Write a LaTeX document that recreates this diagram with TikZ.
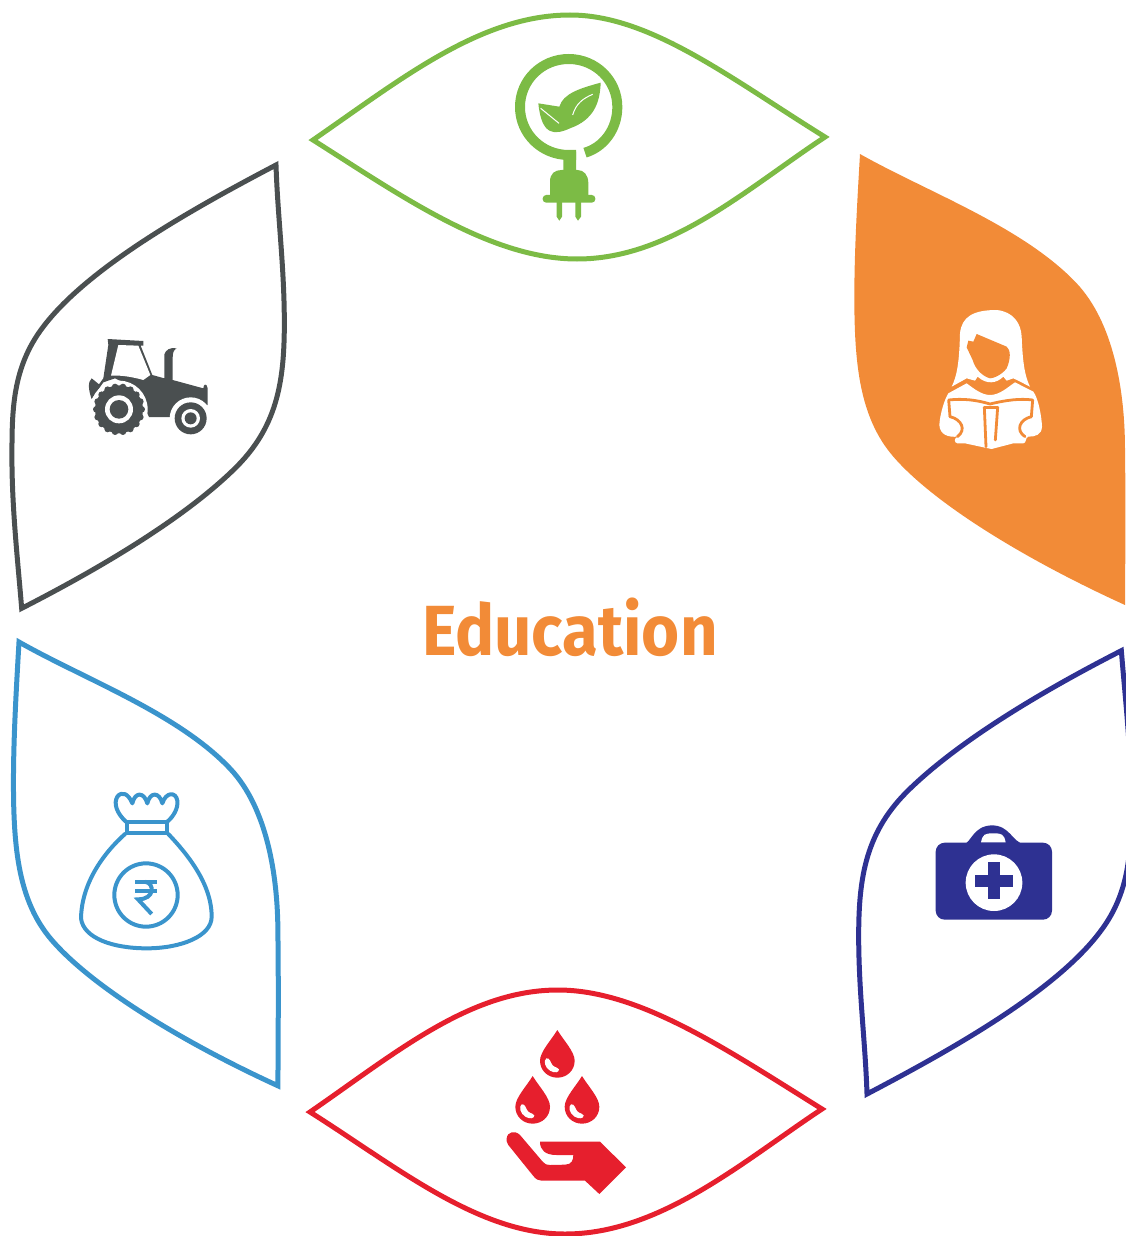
\documentclass[tikz,border=0pt]{standalone}
\usepackage{fontspec}
\setmainfont{Fira Sans}
\newfontfamily\titlefont[FakeStretch=0.92]{Fira Sans}
\definecolor{cgreen}{HTML}{7CBB45}
\definecolor{corange}{HTML}{F28B37}
\definecolor{cnavy}{HTML}{2E3192}
\definecolor{cred}{HTML}{E61F2D}
\definecolor{cblue}{HTML}{3A94CC}
\definecolor{cgrey}{HTML}{4A4F50}
\newcommand{\slantleaf}{(828,45) .. controls (600,165) and (270,345) .. (130,530) .. controls (30,660) and (36,800) .. (36,950) .. controls (38,1100) and (55,1250) .. (65,1375) .. controls (280,1265) and (540,1115) .. (700,960) .. controls (830,835) and (853,700) .. (853,520) .. controls (853,350) and (833,200) .. (828,45) -- cycle}
\newcommand{\otherleaf}{(30,12) .. controls (230,125) and (520,230) .. (680,400) .. controls (790,517) and (825,720) .. (825,900) .. controls (827,1050) and (826,1200) .. (825,1365) .. controls (550,1240) and (260,1070) .. (130,920) .. controls (28,802) and (13,640) .. (13,440) .. controls (13,300) and (22,150) .. (30,12) -- cycle}
\newcommand{\blooddrop}[2]{%
  \fill[cred] (#1,#2) .. controls (#1-18,#2+30) and (#1-52,#2+65) .. (#1-52,#2+92) .. controls (#1-52,#2+122) and (#1-28,#2+143) .. (#1,#2+143) .. controls (#1+28,#2+143) and (#1+52,#2+122) .. (#1+52,#2+92) .. controls (#1+52,#2+65) and (#1+18,#2+30) .. (#1,#2) -- cycle;
  \fill[white] (#1-33,#2+85) .. controls (#1-42,#2+92) and (#1-38,#2+112) .. (#1-22,#2+122) .. controls (#1-8,#2+130) and (#1+5,#2+128) .. (#1+5,#2+118) .. controls (#1+4,#2+112) and (#1-6,#2+114) .. (#1-14,#2+106) .. controls (#1-20,#2+100) and (#1-22,#2+82) .. (#1-33,#2+85) -- cycle;}
\tikzset{
  leafline/.style={line width=5pt,line join=miter,miter limit=20},
  zoomed/.style 2 args={shift={(#1,#2)},x=0.33333pt,y=-0.33333pt},
  bagline/.style={draw=cblue,line width=4pt,line join=round,line cap=round},
  bookline/.style={draw=corange,line width=2.8pt,line join=round,line cap=round}
}
\begin{document}
\begin{tikzpicture}[x=1pt,y=-1pt]
\useasboundingbox[clip] (0,0) rectangle (1126,1236);
% leaves
\draw[leafline,cgreen] (313,140) .. controls (400,80) and (480,15) .. (570,15) .. controls (650,15) and (730,78) .. (825,137) .. controls (745,190) and (670,259) .. (577,259) .. controls (490,259) and (400,195) .. (313,140) -- cycle;
\draw[leafline,cred] (310,1112) .. controls (397,1052) and (470,990) .. (558,990) .. controls (640,990) and (727,1050) .. (822,1109) .. controls (742,1162) and (660,1234) .. (565,1234) .. controls (478,1234) and (397,1167) .. (310,1112) -- cycle;
\begin{scope}[zoomed={0}{150}]
\draw[leafline,cgrey] \slantleaf;
\end{scope}
\begin{scope}[shift={(1143,1259)},xscale=-1,yscale=-1,zoomed={0}{150}]
\draw[leafline,cnavy] \slantleaf;
\end{scope}
\begin{scope}[zoomed={850}{150}]
\fill[corange] \otherleaf;
\end{scope}
\begin{scope}[shift={(19,642)},xscale=.977,yscale=.984,shift={(-860,-154)},zoomed={850}{150}]
\draw[leafline,cblue] \otherleaf;
\end{scope}
% title
\node[text=corange,font=\titlefont\bfseries\fontsize{71}{71}\selectfont,inner sep=0pt] (title) at (570,627) {Education};
% plug and leaf icon
\begin{scope}[zoomed={500}{40}]
\draw[cgreen,line width=10pt] (255,338) .. controls (310,322) and (352,268) .. (352,201) .. controls (352,121) and (287,57) .. (206,57) .. controls (125,57) and (60,121) .. (60,201) .. controls (60,281) and (125,345) .. (206,345) -- (228,345);
\fill[cgreen] (190,340) -- (228,335) -- (228,392) -- (190,392) -- cycle;
\fill[cgreen] (150,468) -- (150,425) .. controls (150,400) and (165,390) .. (185,390) -- (232,390) .. controls (252,390) and (265,405) .. (265,430) -- (265,468) -- cycle;
\fill[cgreen,rounded corners=3.5pt] (128,465) rectangle (286,488);
\fill[cgreen] (170,485) -- (186,485) -- (186,530) -- (178,542) -- (170,530) -- cycle;
\fill[cgreen] (226,485) -- (243,485) -- (243,530) -- (234,542) -- (226,530) -- cycle;
\fill[cgreen] (115,190) -- (178,200) .. controls (190,160) and (240,145) .. (302,128) .. controls (300,190) and (280,240) .. (210,265) .. controls (165,285) and (125,290) .. (115,190) -- cycle;
\draw[white,line width=1pt] (122,205) -- (177,250);
\draw[white,line width=1pt] (218,225) .. controls (228,190) and (250,175) .. (278,163);
\end{scope}
% reader icon
\begin{scope}[zoomed={850}{150}]
\fill[white] (305,710) .. controls (320,680) and (328,640) .. (330,550) .. controls (335,500) and (370,480) .. (440,480) .. controls (490,485) and (513,520) .. (515,560) .. controls (518,640) and (525,680) .. (540,710) .. controls (520,700) and (505,692) .. (490,685) -- (470,692) -- (460,680) .. controls (440,700) and (410,705) .. (383,680) -- (375,692) -- (350,685) -- cycle;
\fill[corange] (380,552) -- (470,590) .. controls (482,600) and (483,625) .. (470,655) .. controls (455,675) and (430,685) .. (420,685) .. controls (395,678) and (375,655) .. (368,630) -- (350,592) -- (355,572) -- (370,575) -- cycle;
\fill[white] (350,700) .. controls (370,715) and (395,735) .. (420,735) .. controls (450,735) and (475,710) .. (495,697) -- (550,725) .. controls (565,745) and (575,800) .. (576,830) .. controls (575,855) and (555,860) .. (535,860) .. controls (525,862) and (530,880) .. (520,880) -- (490,880) -- (440,893) -- (425,897) -- (405,893) -- (345,880) -- (322,880) .. controls (312,878) and (312,865) .. (322,860) .. controls (295,862) and (270,855) .. (268,825) .. controls (270,790) and (285,745) .. (295,730) -- cycle;
\draw[bookline] (300,800) -- (296,750) .. controls (340,745) and (380,750) .. (420,762) .. controls (470,750) and (510,745) .. (548,750) -- (544,800);
\draw[bookline] (300,800) .. controls (335,808) and (350,840) .. (322,860);
\draw[bookline] (544,800) .. controls (510,808) and (495,840) .. (525,860);
\draw[bookline] (403,772) -- (408,890);
\draw[bookline] (443,772) -- (436,870);
\draw[bookline] (403,772) -- (443,772);
\end{scope}
% medical kit icon
\begin{scope}[zoomed={920}{810}]
\fill[cnavy,rounded corners=9pt] (47,98) rectangle (396,329);
\fill[cnavy] (130,105) .. controls (155,95) and (160,48) .. (215,46) .. controls (270,46) and (275,95) .. (315,105) -- cycle;
\fill[white] (183,97) .. controls (188,72) and (195,70) .. (220,70) .. controls (245,70) and (252,72) .. (257,97) -- cycle;
\fill[white] (222,218) circle[radius=85];
\fill[cnavy] (205,155) rectangle (240,268);
\fill[cnavy] (166,195) rectangle (278,230);
\end{scope}
% blood and hand icon
\begin{scope}[zoomed={490}{1020}]
\blooddrop{202}{30}
\blooddrop{128}{168}
\blooddrop{276}{168}
\fill[cred] (50,355) .. controls (52,335) and (75,330) .. (90,345) -- (158,425) .. controls (165,433) and (170,435) .. (180,435) -- (225,434) .. controls (245,434) and (250,420) .. (250,405) -- (200,405) .. controls (165,405) and (150,390) .. (150,365) -- (330,365) -- (408,442) -- (328,522) -- (285,482) -- (155,482) .. controls (145,482) and (138,478) .. (130,468) -- (55,375) .. controls (50,368) and (49,362) .. (50,355) -- cycle;
\end{scope}
% money bag icon
\begin{scope}[zoomed={70}{780}]
\draw[bagline] (168,125) .. controls (140,100) and (130,70) .. (142,50) .. controls (155,33) and (175,40) .. (187,70) .. controls (195,35) and (222,35) .. (232,70) .. controls (240,35) and (268,35) .. (277,70) .. controls (288,35) and (318,35) .. (322,62) .. controls (325,85) and (310,110) .. (292,125);
\draw[bagline] (170,125) rectangle (290,158);
\draw[bagline] (165,162) .. controls (100,220) and (35,310) .. (33,415) .. controls (40,475) and (130,505) .. (230,505) .. controls (330,505) and (425,470) .. (425,410) .. controls (425,310) and (350,220) .. (295,162);
\draw[bagline] (228,345) circle[radius=95];
\draw[bagline,line cap=butt] (195,305) -- (262,305);
\draw[bagline,line cap=butt] (195,332) -- (262,332);
\draw[bagline,line cap=butt,line join=miter] (225,305) .. controls (255,310) and (255,358) .. (204,358) -- (245,402);
\end{scope}
% tractor icon
\begin{scope}[zoomed={75}{325}]
\fill[cgrey] (98,42) -- (205,48) -- (205,62) -- (197,62) -- (232,150) -- (268,160) -- (268,88) .. controls (272,75) and (285,66) .. (305,70) .. controls (295,75) and (293,85) .. (293,100) -- (293,165) -- (385,190) .. controls (385,178) and (395,172) .. (398,190) -- (398,240) -- (300,276) -- (222,276) -- (180,190) -- (120,160) -- (85,172) -- (50,222) .. controls (40,195) and (38,170) .. (50,160) -- (72,178) -- (85,160) -- (100,60) -- cycle;
\fill[white] (130,60) -- (190,62) -- (226,150) -- (205,165) .. controls (170,155) and (135,150) .. (108,152) -- cycle;
\fill[white] (132,253) circle[radius=86];
\fill[white] (347,280) circle[radius=63];
\foreach \a in {0,20,...,340} {\fill[cgrey] (132,253) ++(\a:68) circle[radius=10];}
\fill[cgrey] (132,253) circle[radius=72];
\fill[white] (132,253) circle[radius=42];
\fill[cgrey] (132,253) circle[radius=28];
\fill[cgrey] (347,280) circle[radius=48];
\fill[white] (347,280) circle[radius=28];
\fill[cgrey] (347,280) circle[radius=18];
\end{scope}
\end{tikzpicture}
\end{document}
